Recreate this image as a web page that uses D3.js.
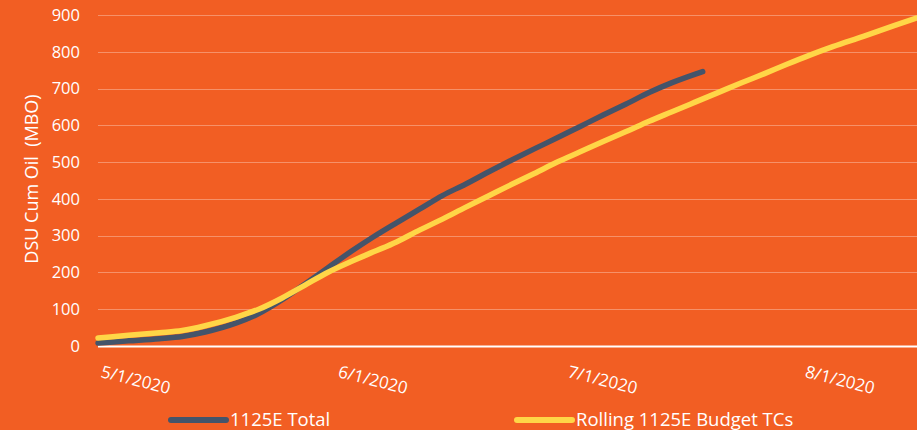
<!DOCTYPE html>
<html>
<head>
<meta charset="utf-8">
<script src="https://cdn.jsdelivr.net/npm/d3@7"></script>
<style>
  html, body { margin: 0; padding: 0; background: #F25E23; }
  svg { display: block; }
  text { font-family: "Open Sans", "Noto Sans", sans-serif; fill: #FFFFFF; }
</style>
</head>
<body>
<svg id="chart" width="917" height="430"></svg>
<script>
// Cumulative oil (MBO) by date
const totalDates = ["2020-05-01","2020-05-05","2020-05-09","2020-05-12","2020-05-15","2020-05-19",
  "2020-05-22","2020-05-25","2020-05-28","2020-05-31","2020-06-03","2020-06-06","2020-06-09",
  "2020-06-12","2020-06-15","2020-06-18","2020-06-21","2020-06-24","2020-06-27","2020-06-30",
  "2020-07-03","2020-07-06","2020-07-09","2020-07-12","2020-07-15","2020-07-19"];
const totalValues = [8,14,20,26,38,62,88,125,168,212,256,297,335,372,409,440,473,505,536,566,
  597,628,658,689,716,746];

const budgetDates = ["2020-05-01","2020-05-05","2020-05-09","2020-05-12","2020-05-15","2020-05-19",
  "2020-05-22","2020-05-25","2020-05-28","2020-05-31","2020-06-03","2020-06-06","2020-06-09",
  "2020-06-12","2020-06-15","2020-06-18","2020-06-21","2020-06-24","2020-06-27","2020-06-30",
  "2020-07-03","2020-07-06","2020-07-09","2020-07-12","2020-07-15","2020-07-18","2020-07-21",
  "2020-07-24","2020-07-27","2020-07-30","2020-08-02","2020-08-05","2020-08-09","2020-08-13",
  "2020-08-16"];
const budgetValues = [22,29,36,42,55,78,100,130,165,200,229,256,283,315,345,377,408,439,469,500,
  528,556,583,611,637,663,689,715,740,766,791,814,842,871,892];

const yTicks = [0,100,200,300,400,500,600,700,800,900];
const xTickDates = ["2020-05-01","2020-06-01","2020-07-01","2020-08-01"];
const xTickLabels = ["5/1/2020","6/1/2020","7/1/2020","8/1/2020"];

const seriesNames = ["1125E Total", "Rolling 1125E Budget TCs"];
const seriesColors = ["#44546A", "#FFD647"];

const parse = d3.utcParse("%Y-%m-%d");
const series = [
  { name: seriesNames[0], color: seriesColors[0],
    points: totalDates.map((d, i) => ({ date: parse(d), value: totalValues[i] })) },
  { name: seriesNames[1], color: seriesColors[1],
    points: budgetDates.map((d, i) => ({ date: parse(d), value: budgetValues[i] })) }
];

const svg = d3.select("#chart");
const plot = { left: 98, right: 917, top: 15, bottom: 346 };

const x = d3.scaleUtc()
  .domain([parse("2020-05-01"), parse("2020-08-16")])
  .range([plot.left, plot.right]);
const y = d3.scaleLinear().domain([0, 900]).range([plot.bottom, plot.top]);

// Horizontal gridlines
svg.append("g")
  .selectAll("line")
  .data(yTicks.filter(t => t > 0))
  .join("line")
  .attr("x1", plot.left).attr("x2", plot.right)
  .attr("y1", d => Math.round(y(d)) + 0.5).attr("y2", d => Math.round(y(d)) + 0.5)
  .attr("stroke", "#FFFFFF").attr("stroke-opacity", 0.32).attr("stroke-width", 1);

// Y axis labels
const yAxis = d3.axisLeft(y).tickValues(yTicks).tickSize(0).tickPadding(0);
const yg = svg.append("g").attr("transform", `translate(80,0)`).call(yAxis);
yg.select(".domain").remove();
yg.selectAll("text")
  .attr("font-size", "16.5px")
  .attr("fill", "#FFFFFF")
  .attr("font-family", "'Open Sans', sans-serif");

// Zero line
svg.append("line")
  .attr("x1", plot.left).attr("x2", plot.right)
  .attr("y1", y(0) + 0.5).attr("y2", y(0) + 0.5)
  .attr("stroke", "#FFFFFF").attr("stroke-width", 2);

// X tick labels, slanted
svg.append("g")
  .selectAll("text")
  .data(xTickDates.map((d, i) => ({ date: parse(d), label: xTickLabels[i] })))
  .join("text")
  .attr("transform", d => `translate(${x(d.date) + 2},377) rotate(14)`)
  .attr("font-size", "17px")
  .attr("text-anchor", "start")
  .text(d => d.label);

// Y axis title
svg.append("text")
  .attr("transform", "translate(38,179) rotate(-90)")
  .attr("text-anchor", "middle")
  .attr("font-size", "18px")
  .attr("xml:space", "preserve")
  .style("white-space", "pre")
  .text("DSU Cum Oil  (MBO)");

// Series lines
const line = d3.line()
  .x(d => x(d.date))
  .y(d => y(d.value))
  .curve(d3.curveMonotoneX);

svg.append("g")
  .selectAll("path")
  .data(series)
  .join("path")
  .attr("d", d => line(d.points))
  .attr("fill", "none")
  .attr("stroke", d => d.color)
  .attr("stroke-width", 5.5)
  .attr("stroke-linecap", "round")
  .attr("stroke-linejoin", "round");

// Legend
const legendX = [171, 517];
const legend = svg.append("g")
  .selectAll("g")
  .data(series)
  .join("g")
  .attr("transform", (d, i) => `translate(${legendX[i]},420)`);
legend.append("line")
  .attr("x1", 0).attr("x2", 55)
  .attr("y1", 0).attr("y2", 0)
  .attr("stroke", d => d.color)
  .attr("stroke-width", 6)
  .attr("stroke-linecap", "round");
legend.append("text")
  .attr("x", 59).attr("y", 6)
  .attr("font-size", "18.5px")
  .text(d => d.name);
</script>
</body>
</html>
